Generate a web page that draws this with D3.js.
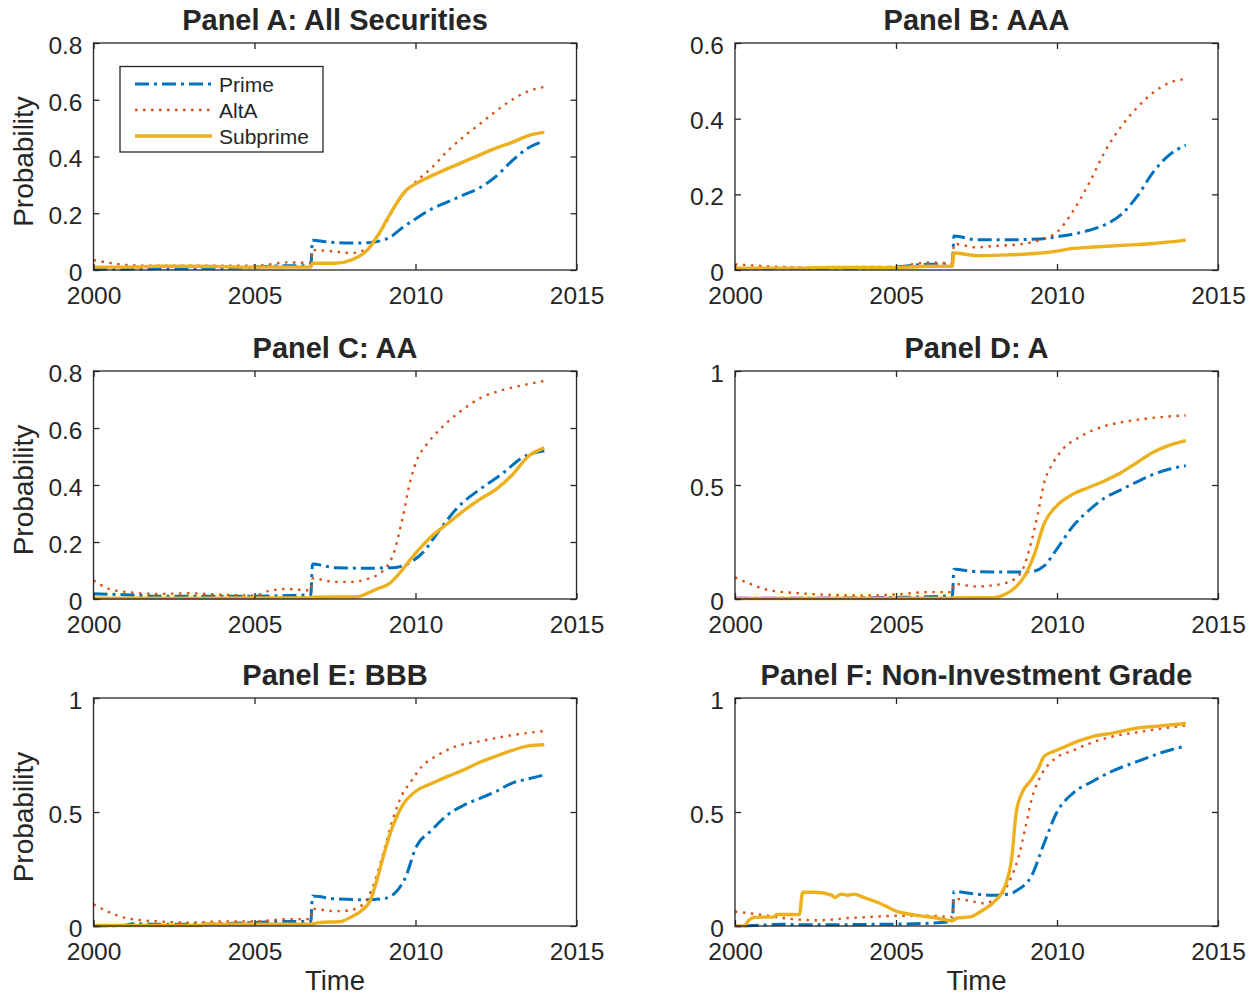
<!DOCTYPE html>
<html><head><meta charset="utf-8">
<script src="https://cdn.jsdelivr.net/npm/d3@7"></script>
<style>body{margin:0;background:#fff}svg{display:block}text{font-family:"Liberation Sans",Arial,Helvetica,sans-serif;fill:#262626}</style>
</head><body>
<script>
const seriesNames = ["Prime", "AltA", "Subprime"];
const xTicks = [2000, 2005, 2010, 2015];
const yTicksA = [0, 0.2, 0.4, 0.6, 0.8];
const yTicksB = [0, 0.2, 0.4, 0.6];
const yTicksC = [0, 0.2, 0.4, 0.6, 0.8];
const yTicksDEF = [0, 0.5, 1];
const panelTitles = ["Panel A: All Securities", "Panel B: AAA", "Panel C: AA", "Panel D: A", "Panel E: BBB", "Panel F: Non-Investment Grade"];

const A_prime = [[2000,0.003],[2001,0.003],[2002,0.005],[2003,0.006],[2004,0.006],[2005,0.01],[2006,0.015],[2006.75,0.015],[2006.8,0.105],[2007.2,0.1],[2007.5,0.097],[2008,0.095],[2008.5,0.096],[2008.8,0.1],[2009.2,0.115],[2009.6,0.15],[2010,0.18],[2010.5,0.215],[2011,0.24],[2011.5,0.265],[2012,0.29],[2012.5,0.33],[2013,0.385],[2013.5,0.43],[2014,0.455]];
const A_alta = [[2000,0.035],[2000.5,0.025],[2001,0.018],[2002,0.015],[2003,0.015],[2004,0.015],[2005,0.015],[2005.5,0.02],[2006,0.027],[2006.75,0.025],[2006.8,0.07],[2007.5,0.065],[2008,0.06],[2008.5,0.075],[2009,0.15],[2009.5,0.25],[2010,0.31],[2010.5,0.36],[2011,0.42],[2011.5,0.47],[2012,0.515],[2012.5,0.56],[2013,0.6],[2013.5,0.63],[2014,0.645]];
const A_sub = [[2000,0.01],[2001,0.01],[2002,0.013],[2003,0.013],[2004,0.012],[2005,0.01],[2006,0.01],[2006.75,0.01],[2006.8,0.024],[2007.5,0.024],[2008,0.035],[2008.5,0.07],[2008.85,0.125],[2009.2,0.195],[2009.7,0.28],[2010.1,0.31],[2010.6,0.337],[2011.2,0.367],[2011.8,0.396],[2012.4,0.425],[2013,0.45],[2013.6,0.477],[2014,0.485]];

const B_prime = [[2000,0.003],[2002,0.004],[2004,0.005],[2005,0.008],[2006,0.015],[2006.75,0.015],[2006.8,0.09],[2007.5,0.08],[2008.5,0.08],[2009.5,0.082],[2010,0.088],[2010.5,0.095],[2011,0.105],[2011.5,0.12],[2012,0.147],[2012.5,0.196],[2013,0.26],[2013.5,0.305],[2014,0.33]];
const B_alta = [[2000,0.015],[2001,0.01],[2002,0.007],[2003,0.007],[2004,0.008],[2005,0.008],[2005.5,0.015],[2006,0.02],[2006.75,0.018],[2006.8,0.069],[2007.5,0.06],[2008,0.063],[2009,0.07],[2009.5,0.08],[2010,0.1],[2010.5,0.156],[2011,0.23],[2011.5,0.315],[2012,0.38],[2012.5,0.43],[2013,0.47],[2013.5,0.495],[2014,0.505]];
const B_sub = [[2000,0.005],[2002,0.005],[2003,0.007],[2004,0.007],[2005,0.006],[2006,0.01],[2006.75,0.01],[2006.8,0.045],[2007.5,0.038],[2008.5,0.04],[2009.5,0.045],[2010,0.05],[2010.5,0.057],[2011,0.06],[2012,0.065],[2013,0.07],[2014,0.079]];

const C_prime = [[2000,0.018],[2001,0.015],[2002,0.01],[2003,0.01],[2004,0.01],[2005,0.01],[2006,0.012],[2006.75,0.015],[2006.8,0.123],[2007.5,0.11],[2008.5,0.108],[2009.3,0.11],[2009.7,0.12],[2010.2,0.16],[2010.8,0.25],[2011.3,0.32],[2012,0.385],[2012.7,0.44],[2013.3,0.495],[2014,0.52]];
const C_alta = [[2000,0.065],[2000.5,0.035],[2001,0.025],[2002,0.018],[2003,0.02],[2004,0.015],[2005,0.012],[2005.5,0.03],[2006,0.035],[2006.75,0.03],[2006.8,0.072],[2007.5,0.06],[2008,0.06],[2008.5,0.07],[2009,0.1],[2009.35,0.17],[2009.6,0.286],[2009.84,0.415],[2010.08,0.497],[2010.33,0.54],[2010.8,0.6],[2011.3,0.65],[2012.05,0.707],[2012.8,0.736],[2013.5,0.754],[2014,0.765]];
const C_sub = [[2000,0.003],[2003,0.003],[2006.75,0.004],[2006.8,0.006],[2008.2,0.008],[2008.5,0.02],[2008.8,0.035],[2009.2,0.055],[2009.5,0.09],[2010,0.16],[2010.5,0.22],[2011,0.265],[2011.5,0.31],[2012,0.35],[2012.5,0.385],[2013,0.435],[2013.5,0.5],[2014,0.53]];

const D_prime = [[2000,0.003],[2003,0.004],[2005,0.007],[2006,0.01],[2006.75,0.015],[2006.8,0.13],[2007.5,0.12],[2008.5,0.118],[2009.2,0.12],[2009.6,0.145],[2010,0.22],[2010.5,0.32],[2011,0.39],[2011.5,0.445],[2012,0.48],[2012.5,0.515],[2013,0.547],[2013.5,0.57],[2014,0.585]];
const D_alta = [[2000,0.095],[2000.5,0.065],[2001,0.04],[2002,0.025],[2003,0.018],[2004,0.015],[2005,0.02],[2006,0.03],[2006.75,0.03],[2006.8,0.066],[2007.5,0.055],[2008,0.06],[2008.5,0.075],[2008.9,0.12],[2009.2,0.25],[2009.4,0.37],[2009.6,0.51],[2009.85,0.59],[2010.2,0.66],[2010.7,0.71],[2011.2,0.745],[2012,0.775],[2012.7,0.79],[2013.4,0.8],[2014,0.805]];
const D_sub = [[2000,0.002],[2006.75,0.003],[2006.8,0.005],[2008,0.006],[2008.3,0.015],[2008.7,0.05],[2009,0.102],[2009.3,0.197],[2009.6,0.33],[2010,0.41],[2010.5,0.46],[2011,0.49],[2011.5,0.52],[2012,0.555],[2012.5,0.6],[2013,0.645],[2013.5,0.675],[2014,0.695]];

const E_prime = [[2000,0.0],[2001,0.003],[2001.2,0.01],[2002,0.008],[2003,0.008],[2004,0.01],[2005,0.015],[2006,0.02],[2006.75,0.02],[2006.8,0.132],[2007.5,0.119],[2008.5,0.115],[2009,0.12],[2009.4,0.15],[2009.7,0.217],[2010,0.34],[2010.5,0.42],[2011,0.488],[2011.5,0.53],[2012,0.56],[2012.5,0.59],[2013,0.627],[2013.5,0.645],[2014,0.663]];
const E_alta = [[2000,0.095],[2000.5,0.06],[2001,0.035],[2002,0.02],[2003,0.015],[2004,0.02],[2005,0.02],[2006,0.03],[2006.75,0.03],[2006.8,0.075],[2007.5,0.065],[2008,0.07],[2008.4,0.1],[2008.7,0.18],[2009,0.32],[2009.3,0.47],[2009.6,0.58],[2009.84,0.63],[2010.2,0.7],[2010.7,0.75],[2011.2,0.785],[2012,0.81],[2012.7,0.83],[2013.4,0.845],[2014,0.855]];
const E_sub = [[2000,0.002],[2003.3,0.002],[2003.5,0.01],[2004,0.008],[2006.75,0.008],[2007,0.015],[2007.7,0.02],[2008,0.04],[2008.3,0.065],[2008.6,0.114],[2008.8,0.2],[2009,0.305],[2009.3,0.44],[2009.6,0.53],[2010,0.59],[2010.5,0.625],[2011,0.656],[2011.5,0.685],[2012,0.718],[2012.5,0.745],[2013,0.77],[2013.5,0.79],[2014,0.795]];

const F_prime = [[2000.3,0.0],[2001,0.005],[2001.5,0.008],[2002,0.005],[2003,0.005],[2004,0.007],[2005,0.008],[2006,0.012],[2006.75,0.02],[2006.8,0.151],[2007.5,0.14],[2008,0.135],[2008.5,0.14],[2008.8,0.16],[2009.2,0.217],[2009.6,0.363],[2010,0.5],[2010.5,0.583],[2011.1,0.634],[2011.7,0.678],[2012.5,0.722],[2013.2,0.758],[2014,0.79]];
const F_alta = [[2000,0.063],[2000.5,0.055],[2001,0.045],[2001.5,0.035],[2002,0.028],[2002.5,0.025],[2003,0.028],[2003.5,0.035],[2004,0.038],[2004.5,0.042],[2005,0.045],[2006,0.045],[2006.75,0.04],[2006.8,0.12],[2007.3,0.11],[2007.7,0.1],[2008,0.11],[2008.3,0.14],[2008.6,0.22],[2008.8,0.3],[2009,0.42],[2009.2,0.55],[2009.5,0.66],[2009.9,0.73],[2010.5,0.77],[2011,0.8],[2011.7,0.83],[2012.5,0.85],[2013.2,0.865],[2014,0.88]];
const F_sub = [[2000,0.0],[2000.3,0.0],[2000.4,0.02],[2000.6,0.038],[2001.2,0.04],[2001.3,0.051],[2002,0.05],[2002.1,0.148],[2002.5,0.148],[2003,0.135],[2003.1,0.125],[2003.3,0.14],[2003.5,0.135],[2003.7,0.14],[2004,0.125],[2004.5,0.1],[2005,0.065],[2005.6,0.048],[2006.3,0.034],[2006.75,0.023],[2006.9,0.035],[2007.3,0.04],[2007.7,0.07],[2008,0.1],[2008.42,0.187],[2008.6,0.305],[2008.73,0.495],[2008.91,0.583],[2009.16,0.634],[2009.4,0.685],[2009.6,0.744],[2009.9,0.766],[2010.27,0.788],[2010.64,0.81],[2011.13,0.832],[2011.74,0.846],[2012.48,0.868],[2013.1,0.876],[2014,0.888]];

const W = 1253, H = 997;
const colX = [[93.5, 576.5], [735, 1218]];
const rowY = [[43, 270], [371, 599], [698, 926]];
const colors = ["#0072BD", "#D95319", "#EDB120"];
const widths = [3, 2.4, 3.4];
const dashes = ["14,5,3,5", "2.5,5.5", null];

const panels = [
  {title: panelTitles[0], yMax: 0.8, yTicks: yTicksA, data: [A_prime, A_alta, A_sub], legend: true},
  {title: panelTitles[1], yMax: 0.6, yTicks: yTicksB, data: [B_prime, B_alta, B_sub]},
  {title: panelTitles[2], yMax: 0.8, yTicks: yTicksC, data: [C_prime, C_alta, C_sub]},
  {title: panelTitles[3], yMax: 1, yTicks: yTicksDEF, data: [D_prime, D_alta, D_sub]},
  {title: panelTitles[4], yMax: 1, yTicks: yTicksDEF, data: [E_prime, E_alta, E_sub]},
  {title: panelTitles[5], yMax: 1, yTicks: yTicksDEF, data: [F_prime, F_alta, F_sub]}
];

const svg = d3.select("body").append("svg").attr("width", W).attr("height", H);
const tickFS = 24.5;
const fmt = d => d3.format("~g")(d);

panels.forEach((p, i) => {
  const c = i % 2, r = Math.floor(i / 2);
  const x = d3.scaleLinear().domain([2000, 2015]).range(colX[c]);
  const y = d3.scaleLinear().domain([0, p.yMax]).range([rowY[r][1], rowY[r][0]]);
  const g = svg.append("g");
  const [x0, x1] = colX[c], [y0, y1] = rowY[r];

  const line = d3.line().x(d => x(d[0])).y(d => y(d[1])).curve(d3.curveMonotoneX);
  p.data.forEach((s, k) => {
    g.append("path").datum(s).attr("d", line)
      .attr("fill", "none").attr("stroke", colors[k]).attr("stroke-width", widths[k])
      .attr("stroke-dasharray", dashes[k]).attr("stroke-linejoin", "round");
  });

  const axB = g.append("g").attr("transform", `translate(0,${y1})`)
    .call(d3.axisBottom(x).tickValues(xTicks).tickSizeInner(-6).tickSizeOuter(0).tickPadding(17).tickFormat(d3.format("d")));
  const axT = g.append("g").attr("transform", `translate(0,${y0})`)
    .call(d3.axisTop(x).tickValues(xTicks).tickSizeInner(-6).tickSizeOuter(0).tickFormat(""));
  const axL = g.append("g").attr("transform", `translate(${x0},0)`)
    .call(d3.axisLeft(y).tickValues(p.yTicks).tickSizeInner(-6).tickSizeOuter(0).tickPadding(11).tickFormat(fmt));
  const axR = g.append("g").attr("transform", `translate(${x1},0)`)
    .call(d3.axisRight(y).tickValues(p.yTicks).tickSizeInner(-6).tickSizeOuter(0).tickFormat(""));
  [axB, axT, axL, axR].forEach(a => {
    a.select(".domain").remove();
    a.selectAll(".tick line").attr("stroke", "#262626").attr("stroke-width", 1.3);
    a.selectAll("text").attr("font-size", tickFS).attr("fill", "#262626")
      .style("font-family", '"Liberation Sans", Arial, sans-serif');
  });
  axL.selectAll("text").attr("dy", "0.42em");
  g.append("rect").attr("x", x0).attr("y", y0).attr("width", x1 - x0).attr("height", y1 - y0)
    .attr("fill", "none").attr("stroke", "#262626").attr("stroke-width", 1.3);

  g.append("text").attr("x", (x0 + x1) / 2).attr("y", y0 - 13).attr("text-anchor", "middle")
    .attr("font-size", 29).attr("font-weight", "bold").attr("fill", "#000").text(p.title);

  if (c === 0) {
    g.append("text").attr("transform", `translate(33,${(y0 + y1) / 2 + 5}) rotate(-90)`)
      .attr("text-anchor", "middle").attr("font-size", 28).text("Probability");
  }
  if (r === 2) {
    g.append("text").attr("x", (x0 + x1) / 2).attr("y", 990).attr("text-anchor", "middle")
      .attr("font-size", 27.5).text("Time");
  }

  if (p.legend) {
    const lg = g.append("g");
    lg.append("rect").attr("x", 120).attr("y", 66.5).attr("width", 203).attr("height", 85.5)
      .attr("fill", "#fff").attr("stroke", "#262626").attr("stroke-width", 1.3);
    seriesNames.forEach((n, k) => {
      const yy = 84 + k * 26;
      lg.append("line").attr("x1", 135).attr("x2", 212).attr("y1", yy).attr("y2", yy)
        .attr("stroke", colors[k]).attr("stroke-width", widths[k]).attr("stroke-dasharray", dashes[k]);
      lg.append("text").attr("x", 219).attr("y", yy).attr("dy", "0.36em").attr("font-size", 21).text(n);
    });
  }
});
</script>
</body></html>
